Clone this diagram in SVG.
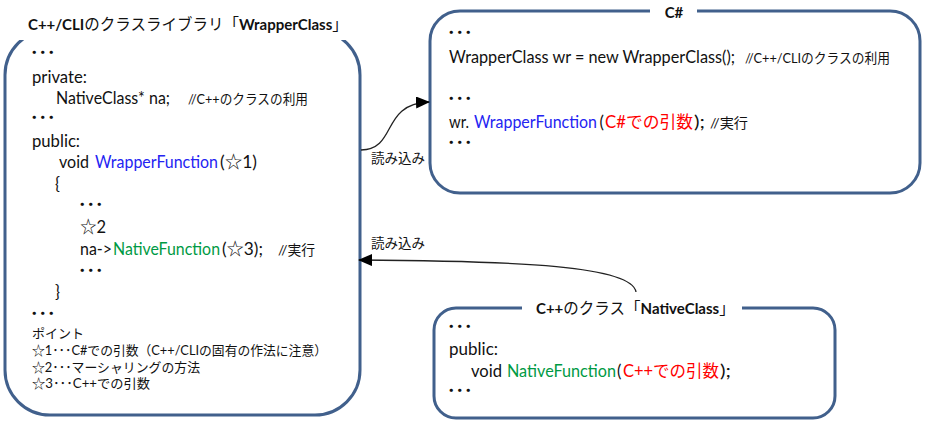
<svg xmlns="http://www.w3.org/2000/svg" width="927" height="429" viewBox="0 0 927 429">
<defs>
<style>
.box{fill:#fff;stroke:#41608C;stroke-width:3}
.gap{fill:#fff}
.t{font-family:Lato,"Noto Sans CJK JP",sans-serif;font-size:16.5px;fill:#111}
.cmt{font-family:Lato,"Noto Sans CJK JP",sans-serif;font-size:13.5px;fill:#111}
.sm{font-family:Lato,"Noto Sans CJK JP",sans-serif;font-size:13px;fill:#111}
.dots{font-family:"Noto Sans CJK JP",sans-serif;font-size:17px;font-weight:bold;fill:#111}
.ttl{font-family:Lato,"Noto Sans CJK JP",sans-serif;font-size:15px;fill:#111}
.b{font-weight:bold}
.jp{font-family:"Noto Sans CJK JP",sans-serif;font-size:15.5px}
.blue{fill:#2424F2}
.green{fill:#009A44}
.red{fill:#FF0000}
.con{fill:none;stroke:#222;stroke-width:1.3}
.lbl{font-family:"Noto Sans CJK JP",sans-serif;font-size:13.5px;fill:#111}
</style>
<marker id="arr" markerUnits="userSpaceOnUse" markerWidth="14" markerHeight="12" refX="13" refY="6" orient="auto">
<path d="M0,0 L14,6 L0,12 Z" fill="#000"/>
</marker>
</defs>

<g id="wrapper-class">
<rect class="box" x="5" y="30" width="355" height="385" rx="45" ry="45"/>
<rect class="gap" x="0" y="6" width="368" height="34"/>
<text class="ttl" x="28" y="30"><tspan class="b">C++/CLI</tspan><tspan class="jp">のクラスライブラリ「</tspan><tspan class="b">WrapperClass</tspan><tspan class="jp">」</tspan></text>
<text class="dots" x="30" y="59">･･･</text>
<text class="t" x="32" y="83" textLength="55" lengthAdjust="spacingAndGlyphs">private:</text>
<text class="t" x="56" y="104" textLength="114" lengthAdjust="spacingAndGlyphs">NativeClass* na;</text>
<text class="cmt" x="188" y="104" textLength="120" lengthAdjust="spacingAndGlyphs">//C++のクラスの利用</text>
<text class="dots" x="30" y="124">･･･</text>
<text class="t" x="32" y="147" textLength="48" lengthAdjust="spacingAndGlyphs">public:</text>
<text class="t" x="59" y="168" textLength="30" lengthAdjust="spacingAndGlyphs">void</text>
<text class="t blue" x="95" y="168" textLength="123" lengthAdjust="spacingAndGlyphs">WrapperFunction</text>
<text class="t" x="220" y="168" textLength="37" lengthAdjust="spacingAndGlyphs">(☆1)</text>
<text class="t" x="55" y="190">{</text>
<text class="dots" x="78" y="211">･･･</text>
<text class="t" x="80" y="233">☆2</text>
<text class="t" x="80" y="255" textLength="32" lengthAdjust="spacingAndGlyphs">na-&gt;</text>
<text class="t green" x="113" y="255" textLength="107" lengthAdjust="spacingAndGlyphs">NativeFunction</text>
<text class="t" x="222" y="255" textLength="41" lengthAdjust="spacingAndGlyphs">(☆3);</text>
<text class="cmt" x="278" y="255" textLength="37" lengthAdjust="spacingAndGlyphs">//実行</text>
<text class="dots" x="78" y="277">･･･</text>
<text class="t" x="55" y="298">}</text>
<text class="dots" x="30" y="320">･･･</text>
<text class="sm" x="32" y="338">ポイント</text>
<text class="sm" x="32" y="355" textLength="295" lengthAdjust="spacingAndGlyphs">☆1･･･C#での引数（C++/CLIの固有の作法に注意）</text>
<text class="sm" x="32" y="372" textLength="168" lengthAdjust="spacingAndGlyphs">☆2･･･マーシャリングの方法</text>
<text class="sm" x="32" y="388" textLength="118" lengthAdjust="spacingAndGlyphs">☆3･･･C++での引数</text>
</g>

<g id="csharp">
<rect class="box" x="430" y="11" width="490" height="182" rx="30" ry="30"/>
<rect class="gap" x="650" y="3" width="47" height="16"/>
<text class="ttl b" x="674" y="18" text-anchor="middle">C#</text>
<text class="dots" x="447" y="39">･･･</text>
<text class="t" x="449" y="63" textLength="286" lengthAdjust="spacingAndGlyphs">WrapperClass wr = new WrapperClass();</text>
<text class="cmt" x="745" y="63" textLength="145" lengthAdjust="spacingAndGlyphs">//C++/CLIのクラスの利用</text>
<text class="dots" x="447" y="105">･･･</text>
<text class="t" x="449" y="128" textLength="20" lengthAdjust="spacingAndGlyphs">wr.</text>
<text class="t blue" x="474" y="128" textLength="123" lengthAdjust="spacingAndGlyphs">WrapperFunction</text>
<text class="t" x="599.5" y="128">(</text>
<text class="t red" x="605" y="128" textLength="88" lengthAdjust="spacingAndGlyphs">C#での引数</text>
<text class="t" x="694" y="128" textLength="11" lengthAdjust="spacingAndGlyphs">);</text>
<text class="cmt" x="710" y="128" textLength="38" lengthAdjust="spacingAndGlyphs">//実行</text>
<text class="dots" x="447" y="149">･･･</text>
</g>

<g id="native-class">
<rect class="box" x="434" y="308" width="401" height="110" rx="22" ry="22"/>
<rect class="gap" x="522" y="298" width="220" height="18"/>
<text class="ttl" x="536" y="314"><tspan class="b">C++</tspan><tspan class="jp">のクラス「</tspan><tspan class="b">NativeClass</tspan><tspan class="jp">」</tspan></text>
<text class="dots" x="447" y="333">･･･</text>
<text class="t" x="449" y="355" textLength="49" lengthAdjust="spacingAndGlyphs">public:</text>
<text class="t" x="471" y="377" textLength="31" lengthAdjust="spacingAndGlyphs">void</text>
<text class="t green" x="507" y="377" textLength="109" lengthAdjust="spacingAndGlyphs">NativeFunction</text>
<text class="t" x="617" y="377">(</text>
<text class="t red" x="623" y="377" textLength="96" lengthAdjust="spacingAndGlyphs">C++での引数</text>
<text class="t" x="720" y="377" textLength="11" lengthAdjust="spacingAndGlyphs">);</text>
<text class="dots" x="447" y="397">･･･</text>
</g>

<g id="connectors">
<path class="con" d="M361,150 C398,149 380,104 429,102" marker-end="url(#arr)"/>
<text class="lbl" x="371" y="163">読み込み</text>
<path class="con" d="M636,292 C632,266 520,261 359,260" marker-end="url(#arr)"/>
<text class="lbl" x="371" y="248">読み込み</text>
</g>
</svg>
